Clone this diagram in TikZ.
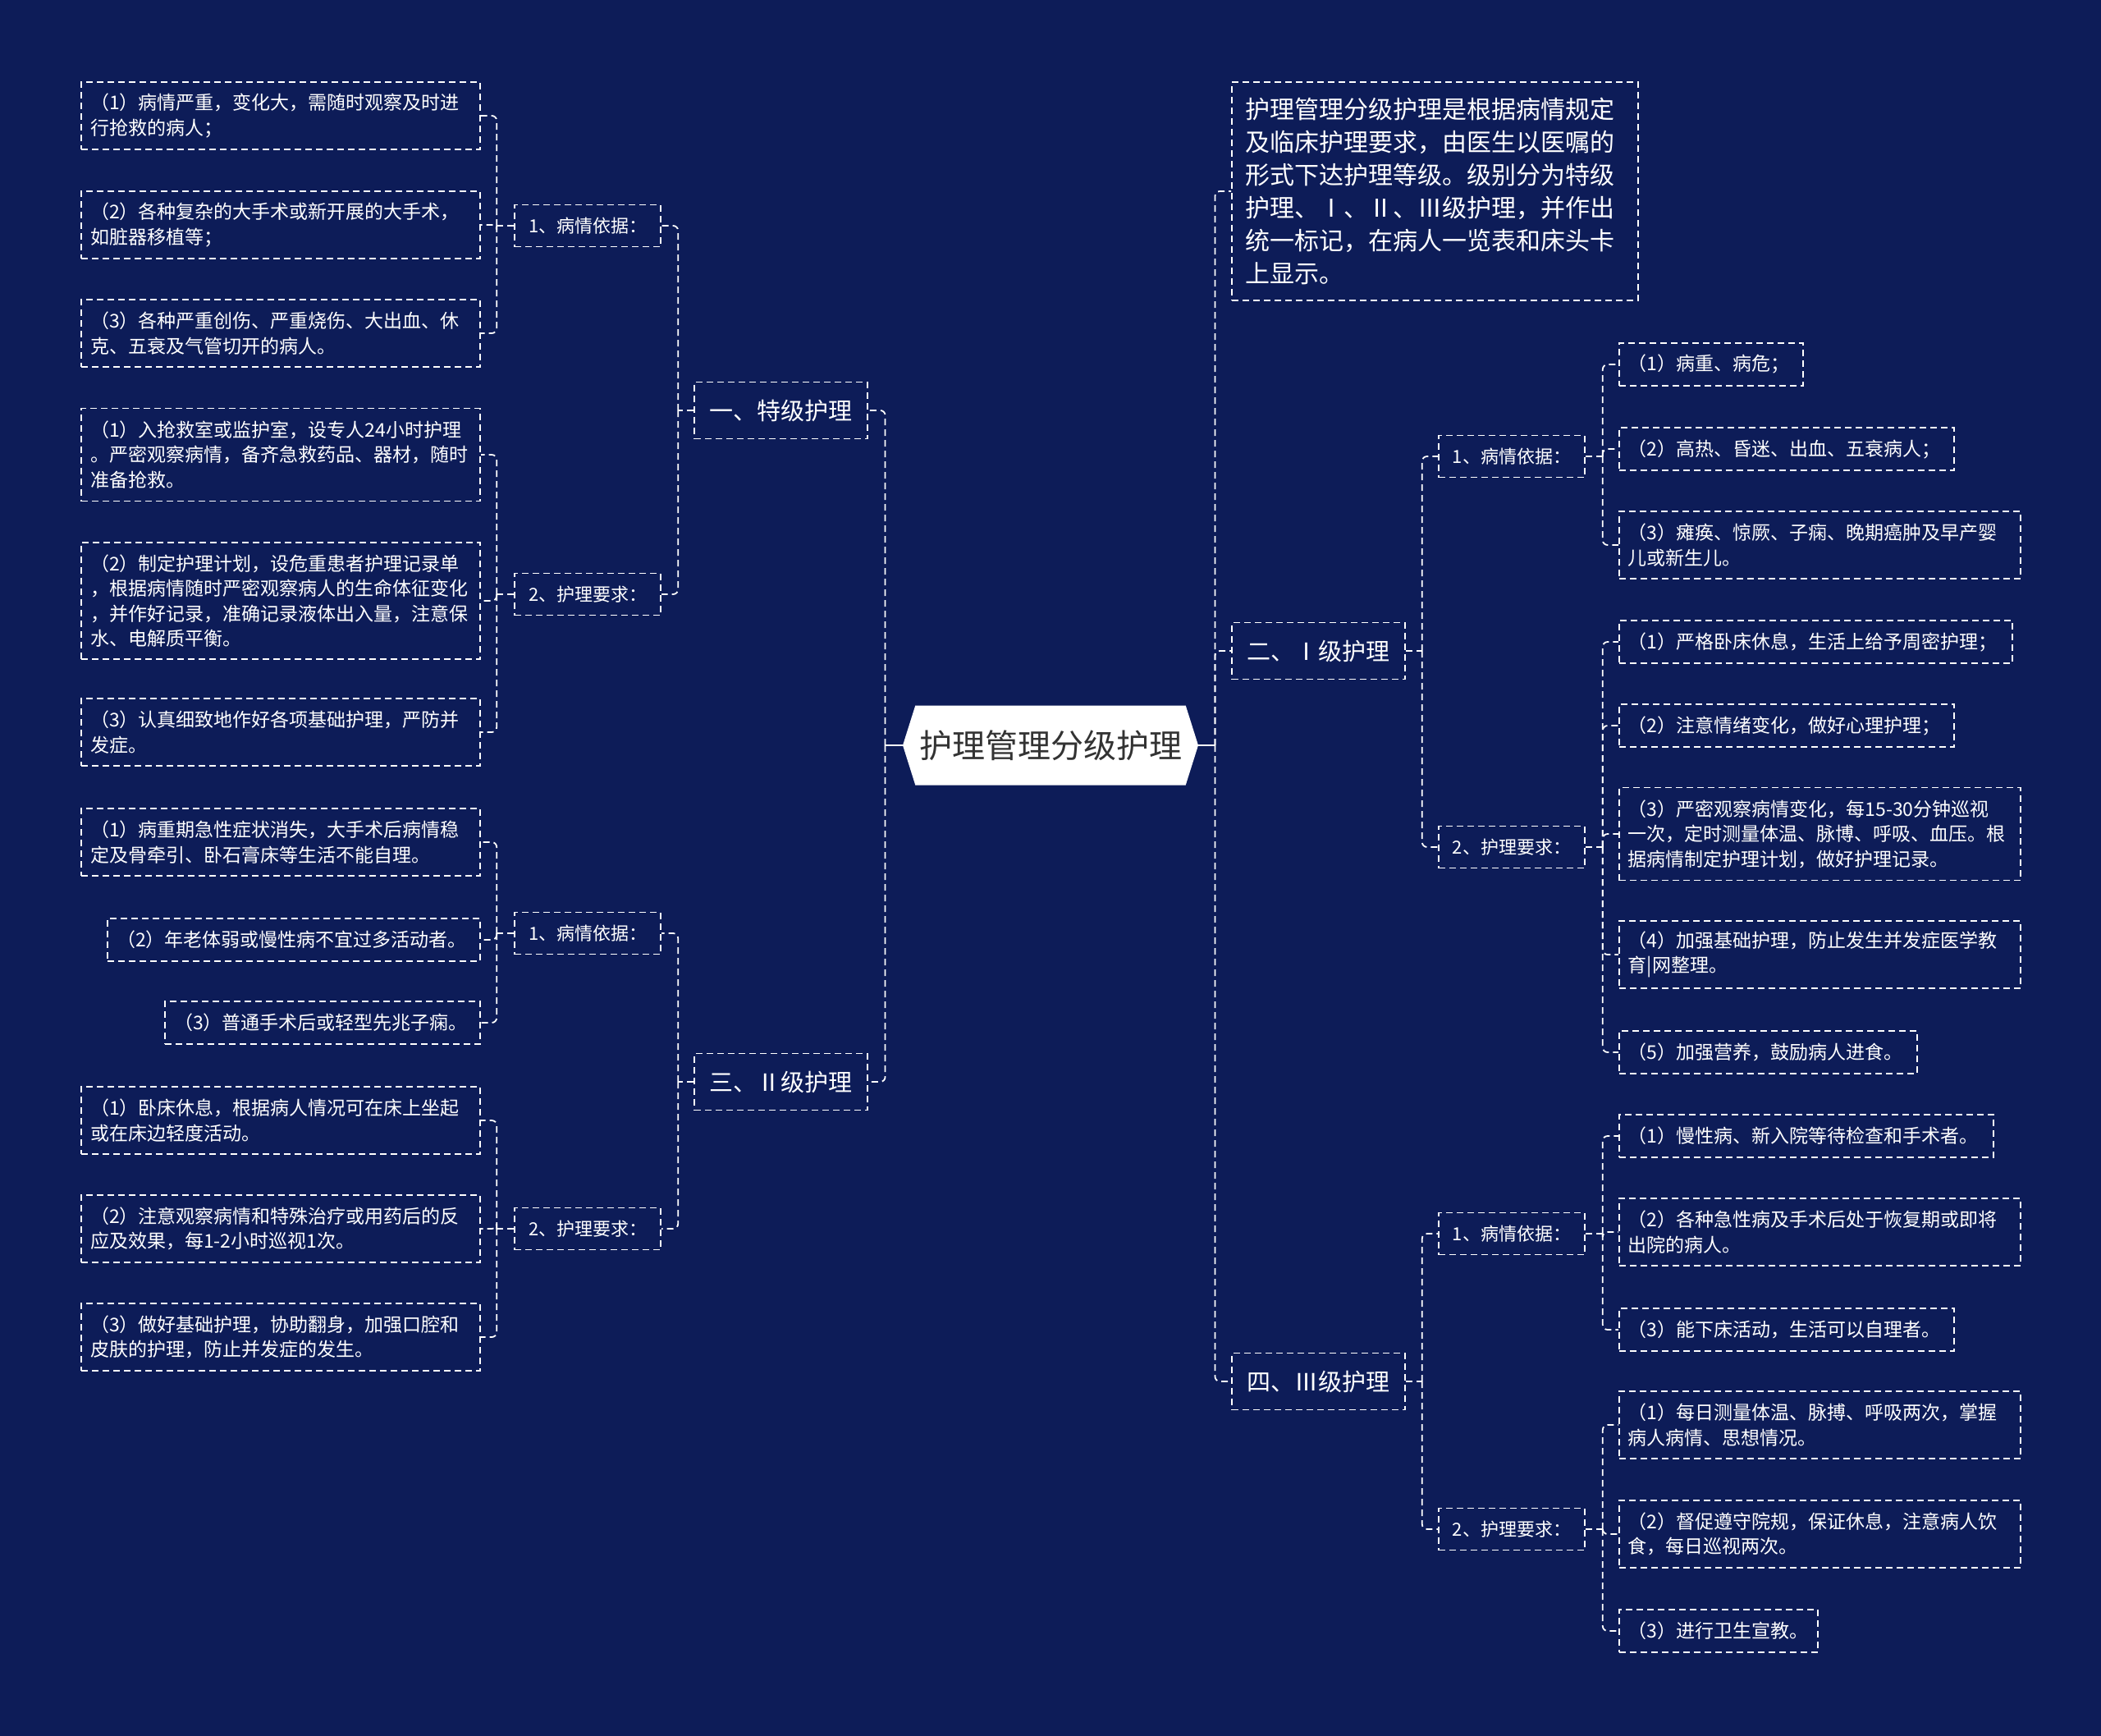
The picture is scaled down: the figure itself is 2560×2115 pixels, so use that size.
\documentclass[tikz,border=0pt]{standalone}
\usepackage{fontspec}
\setmainfont{Noto Sans CJK SC}
\usetikzlibrary{calc,shapes.symbols}
\definecolor{bgnavy}{RGB}{13,28,88}
\definecolor{darktext}{RGB}{51,51,51}
\begin{document}
\begin{tikzpicture}[x=0.5pt,y=-0.5pt,
  bx/.style={draw=white, line width=0.9pt, dash pattern=on 4pt off 2.5pt, text=white, inner sep=0pt},
  leaf/.style={bx, text width=#1, align=left, inner xsep=5.5pt, font=\fontsize{11.5pt}{15.25pt}\selectfont},
  lab/.style={bx, minimum width=89pt, minimum height=25.5pt, align=center, font=\fontsize{11pt}{14pt}\selectfont},
  lvone/.style={bx, minimum width=105.5pt, minimum height=34.5pt, align=center, font=\fontsize{14.5pt}{18pt}\selectfont},
  conn/.style={draw=white, line width=0.9pt, dash pattern=on 4pt off 2.5pt, rounded corners=3pt},
  hone/.style={minimum height=26pt}, htwo/.style={minimum height=41pt},
  hthree/.style={minimum height=56.5pt}, hfour/.style={minimum height=71pt},
]
\fill[bgnavy] (0,0) rectangle (2560,2115);
\useasboundingbox (0,0) rectangle (2560,2115);

% centre
\node[signal, signal to=west and east, signal pointer angle=145, fill=white, text=darktext,
  minimum width=180pt, minimum height=48.5pt, inner sep=0pt,
  font=\fontsize{20pt}{24pt}\selectfont] (C) at (1280,908) {护理管理分级护理};

% level one
\node[lvone, anchor=east] (N1) at (1058,500) {一、特级护理};
\node[lvone, anchor=east] (N3) at (1058,1318) {三、Ⅱ级护理};
\node[lvone, anchor=west] (N2) at (1500,793) {二、Ⅰ级护理};
\node[lvone, anchor=west] (N4) at (1500,1683) {四、Ⅲ级护理};
\node[bx, anchor=west, text width=230.5pt, inner xsep=8.5pt, minimum height=133pt, align=left,
  font=\fontsize{15pt}{20pt}\selectfont] (T) at (1500,233)
  {护理管理分级护理是根据病情规定\\及临床护理要求，由医生以医嘱的\\形式下达护理等级。级别分为特级\\护理、Ⅰ、Ⅱ、Ⅲ级护理，并作出\\统一标记，在病人一览表和床头卡\\上显示。};

% level two
\node[lab, anchor=east] (A1) at (806,275) {1、病情依据：};
\node[lab, anchor=east] (A2) at (806,724) {2、护理要求：};
\node[lab, anchor=east] (B1) at (806,1137) {1、病情依据：};
\node[lab, anchor=east] (B2) at (806,1497) {2、护理要求：};
\node[lab, anchor=west] (C1) at (1752,556) {1、病情依据：};
\node[lab, anchor=west] (C2) at (1752,1032) {2、护理要求：};
\node[lab, anchor=west] (D1) at (1752,1503) {1、病情依据：};
\node[lab, anchor=west] (D2) at (1752,1863) {2、护理要求：};

% left leaves
\node[leaf=232pt, htwo, anchor=east] (L1) at (586,141) {（1）病情严重，变化大，需随时观察及时进\\行抢救的病人；};
\node[leaf=232pt, htwo, anchor=east] (L2) at (586,274) {（2）各种复杂的大手术或新开展的大手术，\\如脏器移植等；};
\node[leaf=232pt, htwo, anchor=east] (L3) at (586,406) {（3）各种严重创伤、严重烧伤、大出血、休\\克、五衰及气管切开的病人。};
\node[leaf=232pt, hthree, anchor=east] (L4) at (586,554) {（1）入抢救室或监护室，设专人24小时护理\\。严密观察病情，备齐急救药品、器材，随时\\准备抢救。};
\node[leaf=232pt, hfour, anchor=east] (L5) at (586,732) {（2）制定护理计划，设危重患者护理记录单\\，根据病情随时严密观察病人的生命体征变化\\，并作好记录，准确记录液体出入量，注意保\\水、电解质平衡。};
\node[leaf=232pt, htwo, anchor=east] (L6) at (586,892) {（3）认真细致地作好各项基础护理，严防并\\发症。};
\node[leaf=232pt, htwo, anchor=east] (L7) at (586,1026) {（1）病重期急性症状消失，大手术后病情稳\\定及骨牵引、卧石膏床等生活不能自理。};
\node[leaf=216pt, hone, anchor=east] (L8) at (586,1145) {（2）年老体弱或慢性病不宜过多活动者。};
\node[leaf=181pt, hone, anchor=east] (L9) at (586,1246) {（3）普通手术后或轻型先兆子痫。};
\node[leaf=232pt, htwo, anchor=east] (L10) at (586,1365) {（1）卧床休息，根据病人情况可在床上坐起\\或在床边轻度活动。};
\node[leaf=232pt, htwo, anchor=east] (L11) at (586,1497) {（2）注意观察病情和特殊治疗或用药后的反\\应及效果，每1-2小时巡视1次。};
\node[leaf=232pt, htwo, anchor=east] (L12) at (586,1629) {（3）做好基础护理，协助翻身，加强口腔和\\皮肤的护理，防止并发症的发生。};

% right leaves
\node[leaf=101pt, hone, anchor=west] (R1) at (1972,444) {（1）病重、病危；};
\node[leaf=193pt, hone, anchor=west] (R2) at (1972,547) {（2）高热、昏迷、出血、五衰病人；};
\node[leaf=233.5pt, htwo, anchor=west] (R3) at (1972,664) {（3）瘫痪、惊厥、子痫、晚期癌肿及早产婴\\儿或新生儿。};
\node[leaf=228.5pt, hone, anchor=west] (R4) at (1972,782) {（1）严格卧床休息，生活上给予周密护理；};
\node[leaf=193pt, hone, anchor=west] (R5) at (1972,884) {（2）注意情绪变化，做好心理护理；};
\node[leaf=233.5pt, hthree, anchor=west] (R6) at (1972,1016) {（3）严密观察病情变化，每15-30分钟巡视\\一次，定时测量体温、脉博、呼吸、血压。根\\据病情制定护理计划，做好护理记录。};
\node[leaf=233.5pt, htwo, anchor=west] (R7) at (1972,1163) {（4）加强基础护理，防止发生并发症医学教\\育|网整理。};
\node[leaf=170.5pt, hone, anchor=west] (R8) at (1972,1282) {（5）加强营养，鼓励病人进食。};
\node[leaf=217pt, hone, anchor=west] (R9) at (1972,1384) {（1）慢性病、新入院等待检查和手术者。};
\node[leaf=233.5pt, htwo, anchor=west] (R10) at (1972,1501) {（2）各种急性病及手术后处于恢复期或即将\\出院的病人。};
\node[leaf=193pt, hone, anchor=west] (R11) at (1972,1620) {（3）能下床活动，生活可以自理者。};
\node[leaf=233.5pt, htwo, anchor=west] (R12) at (1972,1736) {（1）每日测量体温、脉搏、呼吸两次，掌握\\病人病情、思想情况。};
\node[leaf=233.5pt, htwo, anchor=west] (R13) at (1972,1869) {（2）督促遵守院规，保证休息，注意病人饮\\食，每日巡视两次。};
\node[leaf=110pt, hone, anchor=west] (R14) at (1972,1987) {（3）进行卫生宣教。};

% trunk points
\coordinate (tCL) at ($(C.west)+(-21,0)$);
\coordinate (tCR) at ($(C.east)+(20,0)$);
\coordinate (tN1) at ($(N1.west)+(-19,0)$);
\coordinate (tN3) at ($(N3.west)+(-19,0)$);
\coordinate (tN2) at ($(N2.east)+(20,0)$);
\coordinate (tN4) at ($(N4.east)+(20,0)$);
\coordinate (tA1) at ($(A1.west)+(-21,0)$);
\coordinate (tA2) at ($(A2.west)+(-21,0)$);
\coordinate (tB1) at ($(B1.west)+(-21,0)$);
\coordinate (tB2) at ($(B2.west)+(-21,0)$);
\coordinate (tC1) at ($(C1.east)+(21,0)$);
\coordinate (tC2) at ($(C2.east)+(21,0)$);
\coordinate (tD1) at ($(D1.east)+(21,0)$);
\coordinate (tD2) at ($(D2.east)+(21,0)$);

% connectors
\draw[white, line width=0.9pt] (C.west) -- (tCL);
\draw[white, line width=0.9pt] (C.east) -- (tCR);
\foreach \c in {N1,N3} \draw[conn] (tCL) |- (\c.east);
\foreach \c in {T,N2,N4} \draw[conn] (tCR) |- (\c.west);

\draw[conn] (N1.west) -- (tN1);
\foreach \c in {A1,A2} \draw[conn] (tN1) |- (\c.east);
\draw[conn] (N3.west) -- (tN3);
\foreach \c in {B1,B2} \draw[conn] (tN3) |- (\c.east);
\draw[conn] (N2.east) -- (tN2);
\foreach \c in {C1,C2} \draw[conn] (tN2) |- (\c.west);
\draw[conn] (N4.east) -- (tN4);
\foreach \c in {D1,D2} \draw[conn] (tN4) |- (\c.west);

\draw[conn] (A1.west) -- (tA1);
\foreach \c in {L1,L2,L3} \draw[conn] (tA1) |- (\c.east);
\draw[conn] (A2.west) -- (tA2);
\foreach \c in {L4,L5,L6} \draw[conn] (tA2) |- (\c.east);
\draw[conn] (B1.west) -- (tB1);
\foreach \c in {L7,L8,L9} \draw[conn] (tB1) |- (\c.east);
\draw[conn] (B2.west) -- (tB2);
\foreach \c in {L10,L11,L12} \draw[conn] (tB2) |- (\c.east);

\draw[conn] (C1.east) -- (tC1);
\foreach \c in {R1,R2,R3} \draw[conn] (tC1) |- (\c.west);
\draw[conn] (C2.east) -- (tC2);
\foreach \c in {R4,R5,R6,R7,R8} \draw[conn] (tC2) |- (\c.west);
\draw[conn] (D1.east) -- (tD1);
\foreach \c in {R9,R10,R11} \draw[conn] (tD1) |- (\c.west);
\draw[conn] (D2.east) -- (tD2);
\foreach \c in {R12,R13,R14} \draw[conn] (tD2) |- (\c.west);
\end{tikzpicture}
\end{document}
